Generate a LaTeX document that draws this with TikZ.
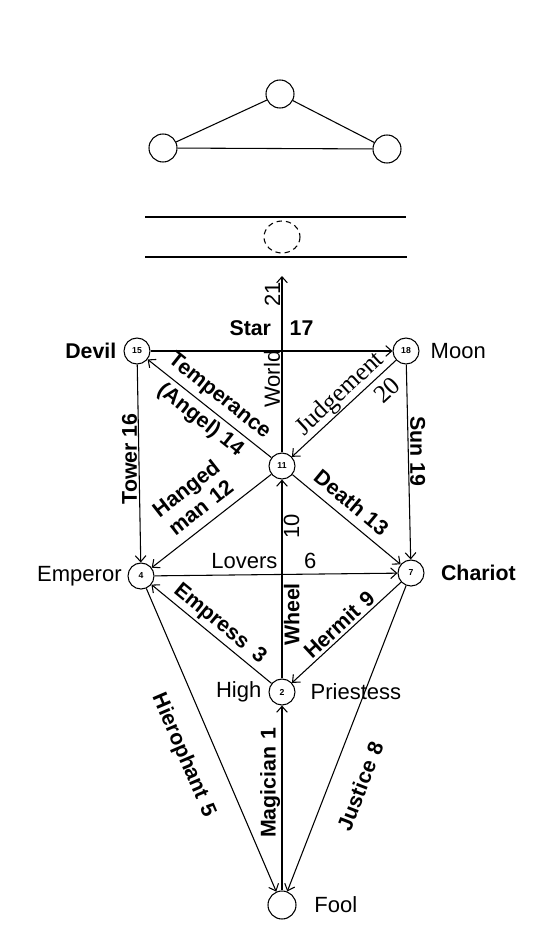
\documentclass[tikz,border=0pt]{standalone}
\usepackage{fontspec}
\setmainfont{Liberation Sans}
\newfontfamily\romanfont{Liberation Serif}
\usetikzlibrary{arrows.meta,positioning}

\begin{document}
\begin{tikzpicture}[x=0.75pt, y=-0.75pt, >={Straight Barb[length=4.5pt,width=8pt]},
    line width=0.8pt, font=\fontsize{16}{18}\selectfont]
  \tikzset{
    card/.style={draw, circle, minimum size=19.5pt, inner sep=0pt,
      font=\fontsize{6.5}{7}\selectfont\bfseries},
    blank/.style={draw, circle, minimum size=21pt, inner sep=0pt},
    lbl/.style={inner sep=1pt, font=\fontsize{16.5}{19}\selectfont},
    strong/.style={inner sep=1pt, font=\fontsize{16}{18}\selectfont\bfseries},
  }
  \useasboundingbox (0,0) rectangle (555,950);

  % upper triad
  \node[blank] (apex) at (280,94) {};
  \node[blank] (leftc) at (163,148) {};
  \node[blank] (rightc) at (387,149) {};
  \draw (leftc) -- (apex) -- (rightc) -- (leftc);

  % the gulf with its hidden circle
  \draw (145,217) -- (406,217);
  \draw (145,257) -- (407,257);
  \draw[dash pattern=on 4pt off 3pt] (282,237) ellipse [x radius=18, y radius=16];

  % the ten stations of the lower tree
  \node[card] (devil) at (137,351) {15};
  \node[card] (moon) at (406,351) {18};
  \node[card] (eleven) at (282,466) {11};
  \node[card] (emperor) at (141,576) {4};
  \node[card] (chariot) at (411,573) {7};
  \node[card] (priestess) at (282,692) {2};
  \node[blank] (fool) at (282,905) {};
  \coordinate (summit) at (282,276);

  % names beside the stations
  \node[strong, left=4pt of devil] (devilname) {Devil};
  \node[lbl, right=7pt of moon] (moonname) {Moon};
  \node[lbl, left=3pt of emperor] (emperorname) {Emperor};
  \node[strong, right=11pt of chariot] (chariotname) {Chariot};
  \node[lbl, left=4pt of priestess] (highname) {High};
  \node[lbl, right=10pt of priestess] (priestessname) {Priestess};
  \node[lbl, right=12pt of fool] (foolname) {Fool};

  % paths across the top
  \draw[->] (devil) -- (moon) node[pos=0.5, above=10pt, strong] {Star\hspace{14pt}17};
  \draw[->] (eleven) -- (summit)
    node[pos=0.40, rotate=90, above=2pt, lbl] {World}
    node[pos=0.88, rotate=90, above=2pt, lbl] {21};
  \draw[->] (eleven) -- (devil)
    node[midway, sloped, align=center, strong] {Temperance\\[5pt](Angel) 14};
  \draw[->] (moon) -- (eleven)
    node[pos=0.45, sloped, align=right, inner sep=1pt, font=\romanfont\fontsize{19}{20}\selectfont] {Judgement\\[3pt]20\hspace*{4pt}};

  % the two pillars
  \draw[->] (devil) -- (emperor) node[pos=0.49, rotate=90, above=2pt, strong] {Tower 16};
  \draw[->] (moon) -- (chariot) node[pos=0.46, rotate=-90, above=2pt, strong] {Sun 19};

  % middle
  \draw[->] (eleven) -- (emperor)
    node[midway, sloped, above=6pt, align=center, strong] {Hanged\\man\hspace{6pt}12};
  \draw[->] (eleven) -- (chariot) node[pos=0.45, sloped, above=5pt, strong] {Death 13};
  \draw[->] (emperor) -- (chariot) node[pos=0.45, above=3pt, lbl] {Lovers\hspace{20pt}6};
  \draw[->] (priestess) -- (eleven)
    node[pos=0.335, rotate=90, below=2pt, strong] {Wheel}
    node[pos=0.79, rotate=90, below=4pt, lbl] {10};
  \draw[->] (priestess) -- (emperor) node[midway, sloped, above=1pt, strong] {Empress\hspace{8pt}3};
  \draw[->] (chariot) -- (priestess) node[midway, sloped, above=1pt, strong] {Hermit\hspace{6pt}9};

  % down to the fool
  \draw[->] (emperor) -- (fool) node[pos=0.51, sloped, below=15pt, strong] {Hierophant\hspace{6pt}5};
  \draw[->] (fool) -- (priestess) node[pos=0.56, rotate=90, above=3pt, strong] {Magician\hspace{5pt}1};
  \draw[->] (chariot) -- (fool) node[pos=0.62, sloped, below=15pt, strong] {Justice\hspace{6pt}8};
\end{tikzpicture}
\end{document}
